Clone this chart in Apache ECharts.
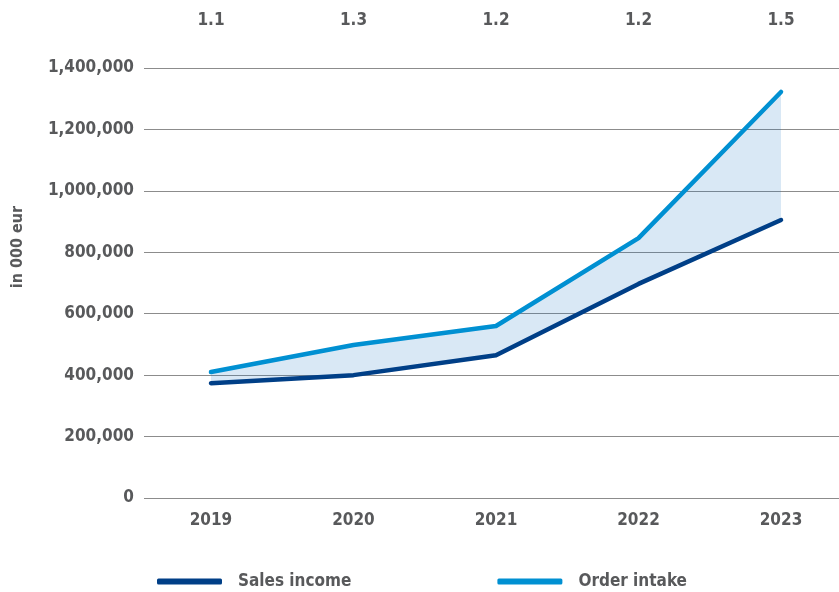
<!DOCTYPE html>
<html>
<head>
<meta charset="utf-8">
<script src="https://cdn.jsdelivr.net/npm/echarts@6/dist/echarts.min.js"></script>
<style>html,body{margin:0;padding:0;background:#fff}#c{width:839px;height:592px}</style>
</head>
<body>
<div id="c"></div>
<script>
var years = ['2019', '2020', '2021', '2022', '2023'];
var ratioLabels = ['1.1', '1.3', '1.2', '1.2', '1.5'];
var salesIncome = [374000, 400000, 465000, 697000, 905000];
var orderIntake = [410000, 498000, 560000, 846000, 1322000];
var yTicks = [0, 200000, 400000, 600000, 800000, 1000000, 1200000, 1400000];

var textColor = '#58595b';
var font = '"DejaVu Sans Condensed", "DejaVu Sans", sans-serif';
var idx = years.map(function (_, i) { return i; });
var pair = function (arr) { return arr.map(function (v, i) { return [i, v]; }); };

var labelStyle = { color: textColor, fontFamily: font, fontWeight: 'bold', fontSize: 17 };

var chart = echarts.init(document.getElementById('c'));
chart.setOption({
  animation: false,
  grid: { left: 144, right: 0, top: 68, bottom: 94 },
  legend: {
    data: ['Sales income', 'Order intake'],
    left: 152, top: 568,
    itemWidth: 65, itemHeight: 6, itemGap: 146,
    icon: 'roundRect',
    textStyle: Object.assign({ padding: [0, 0, 0, 11] }, labelStyle)
  },
  graphic: [{
    type: 'text',
    rotation: Math.PI / 2,
    style: { text: 'in 000 eur', fill: textColor, font: 'bold 16px "DejaVu Sans Condensed"', align: 'center', verticalAlign: 'middle' },
    x: 18, y: 247
  }],
  xAxis: [{
    type: 'value', min: -0.47, max: 4.407,
    axisLine: { show: false }, axisTick: { show: false }, splitLine: { show: false },
    axisLabel: Object.assign({
      margin: 14, customValues: idx,
      formatter: function (v) { return years[Math.round(v)]; }
    }, labelStyle)
  }, {
    type: 'value', min: -0.47, max: 4.407, position: 'top',
    axisLine: { show: false }, axisTick: { show: false }, splitLine: { show: false },
    axisLabel: Object.assign({
      margin: 39, customValues: idx,
      formatter: function (v) { return ratioLabels[Math.round(v)]; }
    }, labelStyle)
  }],
  yAxis: {
    type: 'value', min: 0, max: yTicks[yTicks.length - 1], interval: 200000,
    axisLine: { show: false }, axisTick: { show: false },
    splitLine: { lineStyle: { color: '#8c8c8c', width: 1.2 } },
    axisLabel: Object.assign({
      margin: 10,
      formatter: function (v) { return v.toLocaleString('en-US'); }
    }, labelStyle)
  },
  series: [{
    name: 'band', type: 'custom', silent: true, z: 1,
    data: [0],
    renderItem: function (params, api) {
      var pts = [];
      orderIntake.forEach(function (v, i) { pts.push(api.coord([i, v])); });
      for (var i = salesIncome.length - 1; i >= 0; i--) pts.push(api.coord([i, salesIncome[i]]));
      return { type: 'polygon', shape: { points: pts }, style: { fill: 'rgba(20,110,195,0.16)' } };
    }
  }, {
    name: 'Sales income', type: 'line', data: pair(salesIncome),
    symbol: 'none', color: '#003f87',
    lineStyle: { width: 4.5, color: '#003f87', cap: 'round', join: 'round' }
  }, {
    name: 'Order intake', type: 'line', data: pair(orderIntake),
    symbol: 'none', color: '#0090d2',
    lineStyle: { width: 4.5, color: '#0090d2', cap: 'round', join: 'round' }
  }]
});
</script>
</body>
</html>
